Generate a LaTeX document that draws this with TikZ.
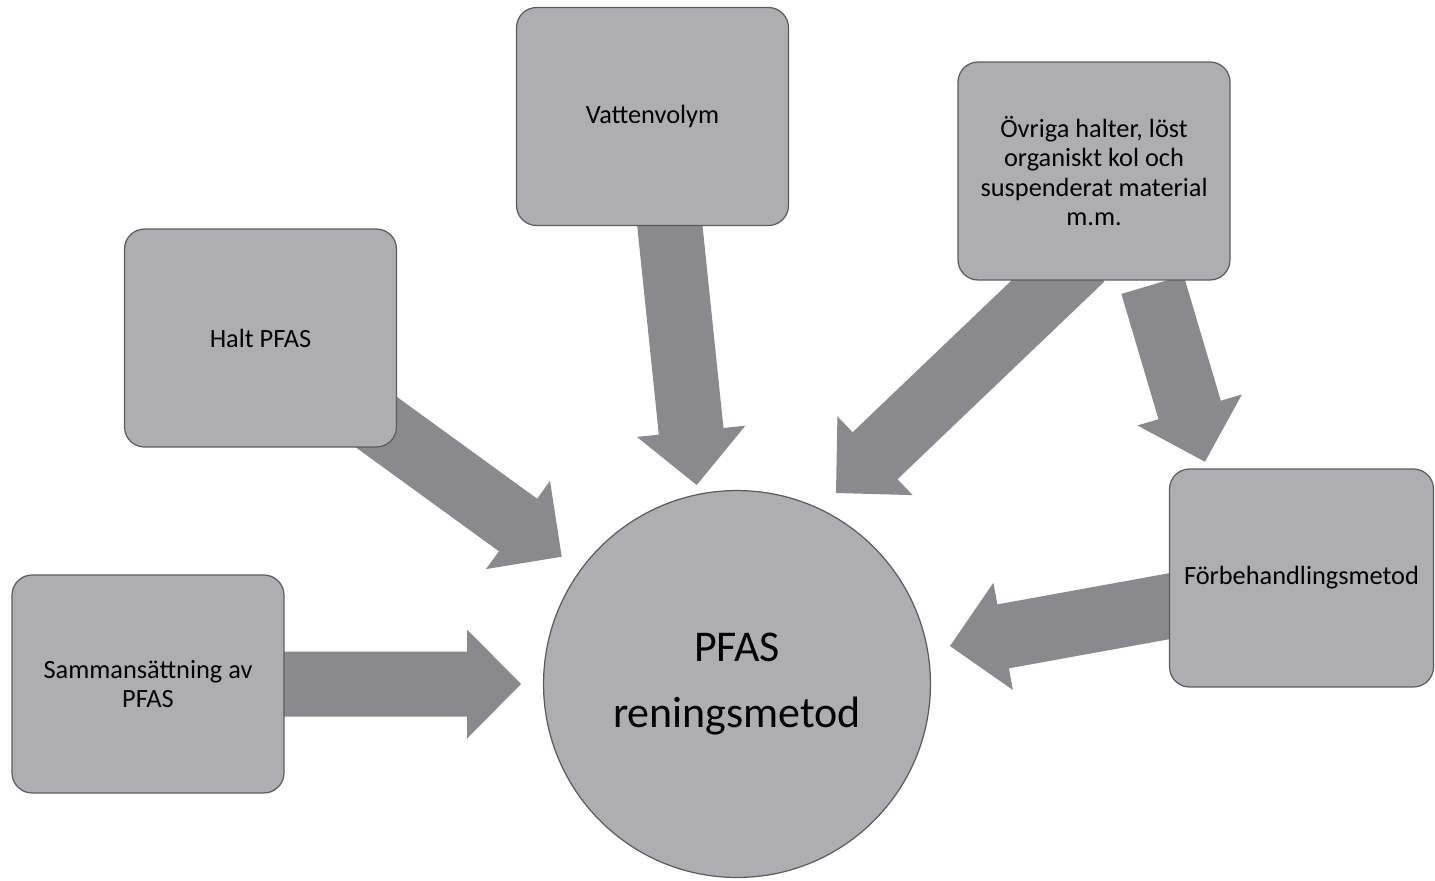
\documentclass[tikz,border=0pt]{standalone}
\usepackage{fontspec}
\setmainfont{Carlito}
\usetikzlibrary{calc}
\definecolor{BoxGrey}{RGB}{174,173,178}
\definecolor{ArrowGrey}{RGB}{138,137,142}
\definecolor{EdgeGrey}{RGB}{92,92,95}
\pgfdeclarelayer{background}
\pgfsetlayers{background,main}

\tikzset{
  factor/.style={draw=EdgeGrey, line width=0.7pt, fill=BoxGrey, rounded corners=0.4cm,
    minimum width=5.44cm, minimum height=4.36cm, align=center, inner sep=4pt,
    font=\fontsize{15}{16.6}\selectfont},
  hub/.style={circle, draw=EdgeGrey, line width=0.7pt, fill=BoxGrey, minimum size=7.74cm,
    align=center, inner sep=0pt, font=\fontsize{25}{37.5}\selectfont},
  block/.style={fill=ArrowGrey}
}

% wide arrow from tail #1 to tip #2
\newcommand{\blockarrow}[2]{%
  \coordinate (hb) at ($(#2)!1.08cm!(#1)$);
  \fill[block] ($(#1)!0.65cm!90:(#2)$) -- ($(hb)!0.65cm!90:(#2)$) -- ($(hb)!1.09cm!90:(#2)$)
    -- (#2) -- ($(hb)!1.09cm!-90:(#2)$) -- ($(hb)!0.65cm!-90:(#2)$) -- ($(#1)!0.65cm!-90:(#2)$) -- cycle;
}

\begin{document}
\begin{tikzpicture}[x=0.02cm, y=-0.02cm]
  \useasboundingbox (0,0) rectangle (1435,880);

  % Centre
  \node[hub] (metod) at (737,684) {PFAS\\reningsmetod};

  % Factors
  \node[factor] (samm) at (148,684) {Sammansättning av\\PFAS};
  \node[factor] (halt) at (260.5,338) {Halt PFAS};
  \node[factor] (vatten) at (652.5,116.5) {Vattenvolym};
  \node[factor] (ovriga) at (1094,171) {Övriga halter, löst\\organiskt kol och\\suspenderat material\\m.m.};
  \node[factor, minimum width=5.28cm] (forb) at (1301.5,578) {Förbehandlingsmetod};

  % Arrow ends
  \coordinate (vattenfoot) at (659.6,126.8);
  \coordinate (ovrigafoot) at (1082,258);
  \coordinate (forbfoot) at (1152.5,284.7);
  \coordinate (forbout) at (1190,602.4);
  \coordinate (tipsamm) at (521,684);
  \coordinate (tiphalt) at (561.7,556.7);
  \coordinate (tipvatten) at (696.7,485);
  \coordinate (tipovriga) at (836,493);
  \coordinate (tipforb) at (1205,461.7);
  \coordinate (tipforbout) at (950,646);

  % Arrows
  \begin{pgfonlayer}{background}
    \blockarrow{samm}{tipsamm}
    \blockarrow{halt}{tiphalt}
    \blockarrow{vattenfoot}{tipvatten}
    \blockarrow{ovrigafoot}{tipovriga}
    \blockarrow{forbfoot}{tipforb}
    \blockarrow{forbout}{tipforbout}
  \end{pgfonlayer}
\end{tikzpicture}
\end{document}
